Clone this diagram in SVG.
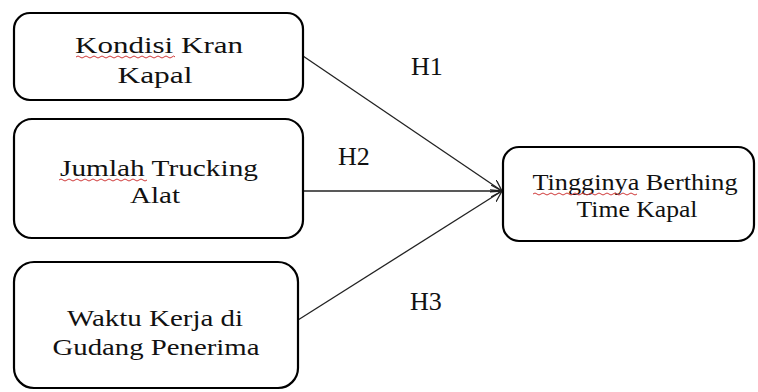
<svg xmlns="http://www.w3.org/2000/svg" width="758" height="392" viewBox="0 0 758 392">
<defs>
<style>
.box{fill:#fff;stroke:#000;stroke-width:2.2}
.t{font-family:"Liberation Serif","Times New Roman",serif;font-size:24px;fill:#111;text-anchor:middle}
.lbl{font-family:"Liberation Serif","Times New Roman",serif;font-size:26px;fill:#111}
.edge{stroke:#222;stroke-width:1.3;fill:none}
.sq{stroke:#d03a3a;stroke-width:1;fill:none}
</style>
<marker id="arr" viewBox="0 0 12 12" refX="11" refY="6" markerWidth="12" markerHeight="12" markerUnits="userSpaceOnUse" orient="auto">
<path d="M0,0 L11,6 L0,12" fill="none" stroke="#222" stroke-width="1.3"/>
</marker>
</defs>
<rect width="758" height="392" fill="#fff"/>
<g id="connectors">
<line class="edge" x1="303" y1="56" x2="502" y2="191" marker-end="url(#arr)"/>
<line class="edge" x1="303" y1="191" x2="502" y2="191" marker-end="url(#arr)"/>
<line class="edge" x1="298" y1="320" x2="502" y2="191" marker-end="url(#arr)"/>
<text class="lbl" x="411" y="75">H1</text>
<text class="lbl" x="338" y="165">H2</text>
<text class="lbl" x="410" y="310">H3</text>
</g>
<g id="kondisi">
<rect class="box" x="14" y="13" width="289" height="87" rx="16"/>
<text class="t" x="159" y="53" textLength="168" lengthAdjust="spacingAndGlyphs">Kondisi Kran</text>
<text class="t" x="155" y="83" textLength="75" lengthAdjust="spacingAndGlyphs">Kapal</text>
<path class="sq" d="M76,57 q2,-2 4,0 t4,0 t4,0 t4,0 t4,0 t4,0 t4,0 t4,0 t4,0 t4,0 t4,0 t4,0 t4,0 t4,0 t4,0 t4,0 t4,0 t4,0 t4,0 t4,0 t4,0 t4,0 t4,0 t4,0 t3,0"/>
</g>
<g id="jumlah">
<rect class="box" x="14" y="119" width="289" height="119" rx="18"/>
<text class="t" x="159" y="176" textLength="198" lengthAdjust="spacingAndGlyphs">Jumlah Trucking</text>
<text class="t" x="155" y="203" textLength="50" lengthAdjust="spacingAndGlyphs">Alat</text>
<path class="sq" d="M59,180 q2,-2 4,0 t4,0 t4,0 t4,0 t4,0 t4,0 t4,0 t4,0 t4,0 t4,0 t4,0 t4,0 t4,0 t4,0 t4,0 t4,0 t4,0 t4,0 t4,0 t4,0 t4,0 t4,0"/>
</g>
<g id="waktu">
<rect class="box" x="14" y="262" width="284" height="126" rx="20"/>
<text class="t" x="155" y="326" textLength="176" lengthAdjust="spacingAndGlyphs">Waktu Kerja di</text>
<text class="t" x="156" y="355" textLength="207" lengthAdjust="spacingAndGlyphs">Gudang Penerima</text>
</g>
<g id="tingginya">
<rect class="box" x="503" y="147" width="251" height="94" rx="16"/>
<text class="t" x="635" y="190" textLength="205" lengthAdjust="spacingAndGlyphs">Tingginya Berthing</text>
<text class="t" x="637" y="217" textLength="121" lengthAdjust="spacingAndGlyphs">Time Kapal</text>
<path class="sq" d="M533,194 q2,-2 4,0 t4,0 t4,0 t4,0 t4,0 t4,0 t4,0 t4,0 t4,0 t4,0 t4,0 t4,0 t4,0 t4,0 t4,0 t4,0 t4,0 t4,0 t4,0 t4,0 t4,0 t4,0 t4,0 t4,0 t4,0 t4,0"/>
</g>
</svg>
